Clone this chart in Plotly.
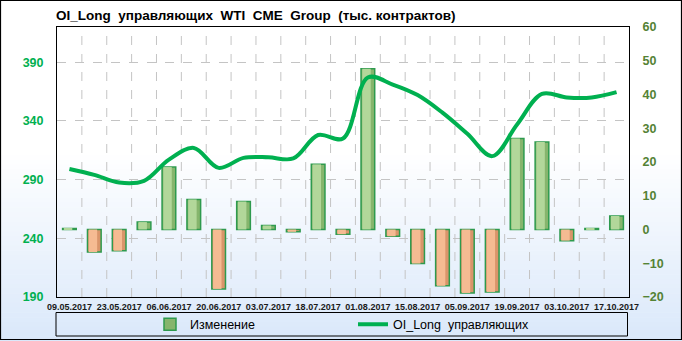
import plotly.graph_objects as go

# ---------------- data ----------------
dates = ["09.05.2017", "16.05.2017", "23.05.2017", "30.05.2017", "06.06.2017",
         "13.06.2017", "20.06.2017", "27.06.2017", "03.07.2017", "11.07.2017",
         "18.07.2017", "25.07.2017", "01.08.2017", "08.08.2017", "15.08.2017",
         "29.08.2017", "05.09.2017", "12.09.2017", "19.09.2017", "26.09.2017",
         "03.10.2017", "10.10.2017", "17.10.2017"]
change = [0.3, -6.7, -6.3, 2.2, 18.5, 8.9, -17.6, 8.3, 1.2, -0.7, 19.3, -1.4,
          47.6, -2.0, -10.1, -16.7, -18.8, -18.5, 27.0, 25.9, -3.3, 0.3, 4.0]
oi_long = [299, 294, 287.5, 289, 307, 317, 300, 308.5, 309, 308, 328, 325,
           377, 371, 362, 347, 329, 310, 337, 363, 360, 360, 364.5]
tick_labels = dates[::2]

title_text = "OI_Long  управляющих  WTI  CME  Group  (тыс. контрактов)"
name_bar = "Изменение"
name_line = "OI_Long  управляющих"

# ---------------- geometry ----------------
W, H = 682, 341
L, R, T, B = 57, 53, 27, 44
PW, PH = W - L - R, H - T - B


def px(x):
    return (x - L) / PW


def py(y):
    return (H - B - y) / PH


xs = list(range(len(dates)))
base_colors = ["#86b56d" if v >= 0 else "#d9956a" for v in change]
light_colors = ["#b2d79a" if v >= 0 else "#f5bb92" for v in change]

fig = go.Figure()
fig.add_trace(go.Bar(
    x=xs, y=change, name=name_bar, yaxis="y", width=0.55, offset=-0.275,
    marker=dict(color=base_colors, line=dict(color="#2e9a4e", width=1.5)),
))
fig.add_trace(go.Bar(
    x=xs, y=change, name=name_bar, yaxis="y", width=0.34, offset=-0.225,
    marker=dict(color=light_colors, line=dict(width=0)), showlegend=False,
    hoverinfo="skip",
))
fig.add_trace(go.Scatter(
    x=xs, y=oi_long, name=name_line, yaxis="y2", mode="lines",
    line=dict(color="#00b050", width=4, shape="spline", smoothing=1.0),
))

shapes = []
# background gradient
y0, y1 = 150, H
n = 40
c0 = (255, 255, 255)
c1 = (218, 232, 250)
shapes.append(dict(type="rect", xref="paper", yref="paper", x0=px(0), x1=px(W),
                   y0=py(y0), y1=py(0), fillcolor="white", line_width=0, layer="below"))
for i in range(n):
    a = y0 + (y1 - y0) * i / n
    b = y0 + (y1 - y0) * (i + 1) / n
    t = (i + 0.5) / n
    col = "rgb(%d,%d,%d)" % tuple(round(c0[k] + (c1[k] - c0[k]) * t) for k in range(3))
    shapes.append(dict(type="rect", xref="paper", yref="paper", x0=px(0), x1=px(W),
                       y0=py(b + 0.5), y1=py(a), fillcolor=col, line_width=0, layer="below"))
# vertical category-boundary gridlines
for i in xs[:-1]:
    shapes.append(dict(type="line", xref="x", yref="paper", x0=i + 0.5, x1=i + 0.5,
                       y0=0, y1=1, line=dict(color="#c4c4c4", width=1, dash="dash"),
                       layer="below"))
# outer border
shapes.append(dict(type="rect", xref="paper", yref="paper", x0=px(0.5), x1=px(W - 0.5),
                   y0=py(H - 1.5), y1=py(0.5), line=dict(color="black", width=1.2),
                   fillcolor="rgba(0,0,0,0)", layer="above"))
# legend box
shapes.append(dict(type="rect", xref="paper", yref="paper", x0=px(56), x1=px(627.5),
                   y0=py(336), y1=py(312.5), line=dict(color="black", width=1),
                   fillcolor="rgba(0,0,0,0)", layer="above"))

fig.update_layout(
    width=W, height=H, autosize=False,
    margin=dict(l=L, r=R, t=T, b=B, pad=0, autoexpand=False),
    paper_bgcolor="white", plot_bgcolor="rgba(0,0,0,0)",
    barmode="overlay",
    font=dict(family="Liberation Sans, Arial, sans-serif", color="black"),
    title=dict(text="<b>" + title_text + "</b>", x=56 / W, xanchor="left", xref="container",
               y=1 - 15.5 / H, yanchor="middle", yref="container",
               font=dict(size=13.5, family="Liberation Sans, Arial, sans-serif", color="black")),
    showlegend=True,
    legend=dict(orientation="h", x=px(150), xanchor="left", y=py(324.5), yanchor="middle",
                entrywidth=158, entrywidthmode="pixels",
                font=dict(size=12.5, family="Liberation Sans, Arial, sans-serif", color="black"),
                bgcolor="rgba(0,0,0,0)", borderwidth=0, traceorder="normal"),
    xaxis=dict(range=[-0.5, len(dates) - 0.5], tickmode="array", tickvals=xs[::2],
               ticktext=tick_labels, showgrid=False, zeroline=False,
               showline=True, linecolor="black", linewidth=1, mirror=True,
               ticks="outside", ticklen=1, tickcolor="rgba(0,0,0,0)",
               tickfont=dict(size=9, family="Liberation Sans, Arial, sans-serif", color="#1a1a1a", weight="bold"),
               tickangle=0),
    yaxis=dict(range=[-20, 60], side="right", tick0=-20, dtick=10, showgrid=False,
               zeroline=False, showline=True, linecolor="black", linewidth=1, mirror=True,
               ticks="outside", ticklen=10, tickcolor="rgba(0,0,0,0)",
               tickfont=dict(size=12.5, color="#548235", weight="bold")),
    yaxis2=dict(range=[190, 420], side="left", overlaying="y", tick0=190, dtick=50,
                showgrid=True, gridcolor="#c4c4c4", griddash="dash", gridwidth=1,
                zeroline=False, showline=False,
                ticks="outside", ticklen=10, tickcolor="rgba(0,0,0,0)",
                tickfont=dict(size=12.5, color="#00b050", weight="bold")),
    shapes=shapes,
)

fig.write_html("out.html")
